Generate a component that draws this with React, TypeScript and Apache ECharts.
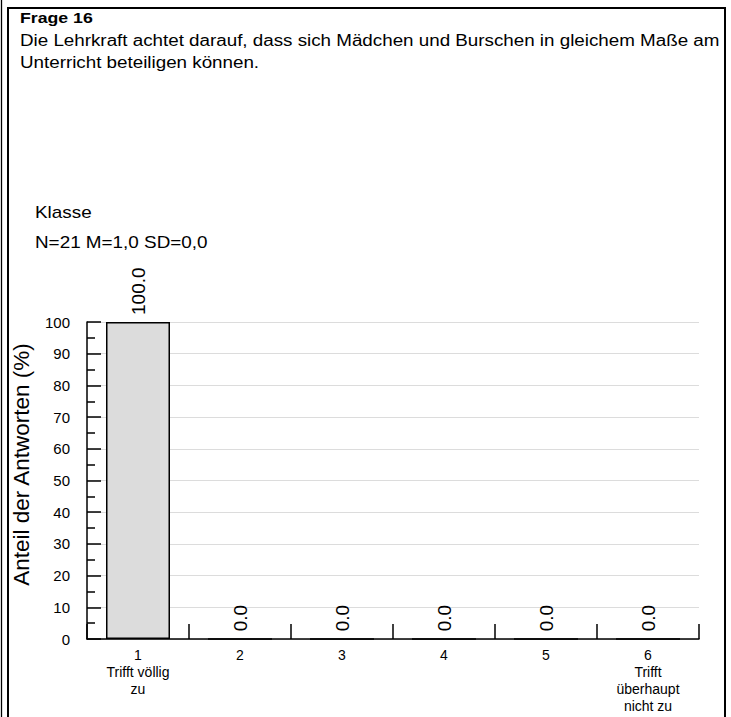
import React, { useEffect, useRef } from "react";
import * as echarts from "echarts";

const categories = ["1", "2", "3", "4", "5", "6"];
const categoryLabels = [
  "1\nTrifft völlig\nzu",
  "2",
  "3",
  "4",
  "5",
  "6\nTrifft\nüberhaupt\nnicht zu",
];
const values = [100.0, 0.0, 0.0, 0.0, 0.0, 0.0];
const yTicks = [0, 10, 20, 30, 40, 50, 60, 70, 80, 90, 100];

const titleText = "Frage 16";
const questionText =
  "Die Lehrkraft achtet darauf, dass sich Mädchen und Burschen in gleichem Maße am\nUnterricht beteiligen können.";
const groupText = "Klasse";
const statsText = "N=21 M=1,0 SD=0,0";
const yAxisName = "Anteil der Antworten (%)";

const FONT = "Liberation Sans, Arial, Helvetica, sans-serif";

export default function App() {
  const ref = useRef<HTMLDivElement>(null);

  useEffect(() => {
    document.body.style.margin = "0";
    if (!ref.current) return;
    const chart = echarts.init(ref.current, undefined, { renderer: "svg" });
    chart.setOption({
      animation: false,
      backgroundColor: "#ffffff",
      textStyle: { fontFamily: FONT },
      graphic: [
        {
          type: "line",
          shape: { x1: 1.5, y1: 0, x2: 1.5, y2: 717 },
          style: { stroke: "#000", lineWidth: 1.3 },
        },
        {
          type: "rect",
          shape: { x: 8, y: 8, width: 717, height: 730 },
          style: { fill: "none", stroke: "#000", lineWidth: 2 },
        },
        {
          type: "text",
          x: 20,
          y: 18,
          scaleX: 1.18,
          style: {
            text: titleText,
            font: `bold 15px ${FONT}`,
            fill: "#000",
            verticalAlign: "middle",
          },
        },
        {
          type: "text",
          x: 20,
          y: 30,
          scaleX: 1.175,
          style: {
            text: questionText,
            font: `16px ${FONT}`,
            lineHeight: 22,
            fill: "#000",
            verticalAlign: "top",
          },
        },
        {
          type: "text",
          x: 35,
          y: 213,
          scaleX: 1.18,
          style: {
            text: groupText,
            font: `16px ${FONT}`,
            fill: "#000",
            verticalAlign: "middle",
          },
        },
        {
          type: "text",
          x: 35,
          y: 243,
          scaleX: 1.18,
          style: {
            text: statsText,
            font: `16px ${FONT}`,
            fill: "#000",
            verticalAlign: "middle",
          },
        },
      ],
      grid: {
        left: 87,
        right: 32,
        top: 322,
        bottom: 78,
        containLabel: false,
        outerBoundsMode: "none",
      },
      xAxis: {
        type: "category",
        data: categories,
        boundaryGap: true,
        axisLine: { show: true, lineStyle: { color: "#000", width: 1.5 } },
        axisTick: {
          show: true,
          inside: true,
          length: 15,
          lineStyle: { color: "#000", width: 1.5 },
        },
        axisLabel: {
          color: "#000",
          fontSize: 14,
          lineHeight: 17,
          margin: 7,
          fontFamily: FONT,
          formatter: (_v: string, i: number) => categoryLabels[i],
        },
        splitLine: { show: false },
      },
      yAxis: {
        type: "value",
        min: 0,
        max: 100,
        interval: 10,
        name: yAxisName,
        nameLocation: "middle",
        nameGap: 54,
        nameTextStyle: {
          fontSize: 22.5,
          color: "#000",
          fontFamily: FONT,
          padding: [0, 0, 0, 32],
        },
        axisLine: { show: true, lineStyle: { color: "#000", width: 1.5 } },
        axisTick: {
          show: true,
          inside: true,
          length: 14,
          lineStyle: { color: "#000", width: 1.5 },
        },
        minorTick: {
          show: true,
          splitNumber: 2,
          length: 8,
          lineStyle: { color: "#000", width: 1.5 },
        },
        axisLabel: {
          color: "#000",
          fontSize: 15,
          margin: 17,
          fontFamily: FONT,
          formatter: (v: number) => (yTicks.includes(v) ? String(v) : ""),
        },
        splitLine: { show: true, lineStyle: { color: "#dcdcdc", width: 1 } },
      },
      series: [
        {
          type: "bar",
          data: values,
          barWidth: 64,
          itemStyle: { color: "#dcdcdc", borderColor: "#000", borderWidth: 1.5 },
          label: {
            show: true,
            position: "top",
            rotate: 90,
            align: "left",
            verticalAlign: "middle",
            distance: 7,
            fontSize: 19,
            color: "#000",
            fontFamily: FONT,
            formatter: (p: any) => Number(p.value).toFixed(1),
          },
        },
      ],
    });
    return () => chart.dispose();
  }, []);

  return <div ref={ref} style={{ width: 731, height: 717 }} />;
}
